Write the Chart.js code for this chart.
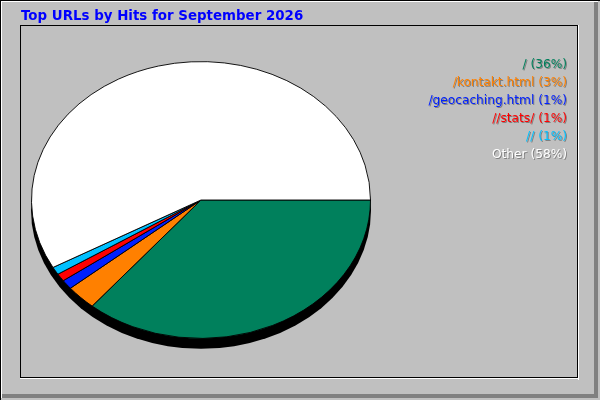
<!DOCTYPE html>
<html>
<head>
<meta charset="utf-8">
<script src="https://cdn.jsdelivr.net/npm/chart.js@4/dist/chart.umd.min.js"></script>
<style>
  body { margin: 0; background: #c0c0c0; }
  canvas { display: block; }
</style>
</head>
<body>
<canvas id="pie" width="600" height="400"></canvas>
<script>
const titleText = 'Top URLs by Hits for September 2026';
const urls = ['/', '/kontakt.html', '/geocaching.html', '//stats/', '//', 'Other'];
const shares = [36.1, 2.9, 1.1, 0.9, 0.9, 58.1];
const sliceColors = ['#00805c', '#ff8000', '#0020ff', '#ff0000', '#00c0ff', '#ffffff'];

// squash the round pie into an ellipse, webalizer style
const squash = 138 / 169;

const webalizerLook = {
  id: 'webalizerLook',
  beforeDraw(chart) {
    const ctx = chart.ctx;
    ctx.save();
    ctx.fillStyle = '#c0c0c0';
    ctx.fillRect(0, 0, 600, 400);
    // outer frame
    ctx.fillStyle = '#000000';
    ctx.fillRect(0, 0, 600, 1);
    ctx.fillRect(0, 0, 1, 400);
    ctx.fillStyle = '#ffffff';
    ctx.fillRect(1, 1, 597, 1);
    ctx.fillRect(1, 1, 1, 397);
    ctx.fillStyle = '#808080';
    ctx.fillRect(594, 2, 4, 396);
    ctx.fillRect(2, 394, 596, 4);
    // inner box
    ctx.fillStyle = '#000000';
    ctx.fillRect(20, 25, 559, 1);
    ctx.fillRect(20, 25, 1, 354);
    ctx.fillRect(577, 25, 1, 354);
    ctx.fillRect(20, 377, 558, 1);
    ctx.fillStyle = '#ffffff';
    ctx.fillRect(578, 25, 1, 355);
    ctx.fillRect(20, 378, 559, 1);
    // title
    ctx.font = 'bold 13.4px "DejaVu Sans"';
    ctx.fillStyle = '#0000ff';
    ctx.textBaseline = 'alphabetic';
    ctx.fillText(titleText, 21, 19.5);
    ctx.restore();
  },
  beforeDatasetsDraw(chart) {
    const ctx = chart.ctx;
    const arc = chart.getDatasetMeta(0).data[0];
    ctx.save();
    // 3d rim under the pie
    ctx.fillStyle = '#000000';
    ctx.beginPath();
    ctx.ellipse(arc.x, arc.y + 10, arc.outerRadius + 0.5, (arc.outerRadius + 0.5) * squash, 0, 0, Math.PI * 2);
    ctx.fill();
    ctx.translate(arc.x, arc.y);
    ctx.scale(1, squash);
    ctx.translate(-arc.x, -arc.y);
  },
  afterDatasetsDraw(chart) {
    chart.ctx.restore();
  },
  afterDraw(chart) {
    const ctx = chart.ctx;
    ctx.save();
    ctx.font = '12.2px "DejaVu Sans"';
    ctx.textAlign = 'right';
    ctx.textBaseline = 'alphabetic';
    urls.forEach((u, i) => {
      const txt = u + ' (' + Math.round(shares[i]) + '%)';
      const y = 68 + i * 18;
      ctx.fillStyle = '#808080';
      ctx.fillText(txt, 568, y + 1);
      ctx.fillStyle = sliceColors[i];
      ctx.fillText(txt, 567, y);
    });
    ctx.restore();
  }
};

new Chart(document.getElementById('pie').getContext('2d'), {
  type: 'pie',
  data: {
    labels: urls,
    datasets: [{
      data: shares,
      backgroundColor: sliceColors,
      borderColor: '#000000',
      borderWidth: 1
    }]
  },
  options: {
    responsive: false,
    devicePixelRatio: 1,
    animation: false,
    events: [],
    rotation: 90,
    layout: {
      padding: { left: 31, right: 229, top: 30, bottom: 30 }
    },
    plugins: {
      legend: { display: false },
      tooltip: { enabled: false },
      title: { display: false }
    }
  },
  plugins: [webalizerLook]
});
</script>
</body>
</html>
